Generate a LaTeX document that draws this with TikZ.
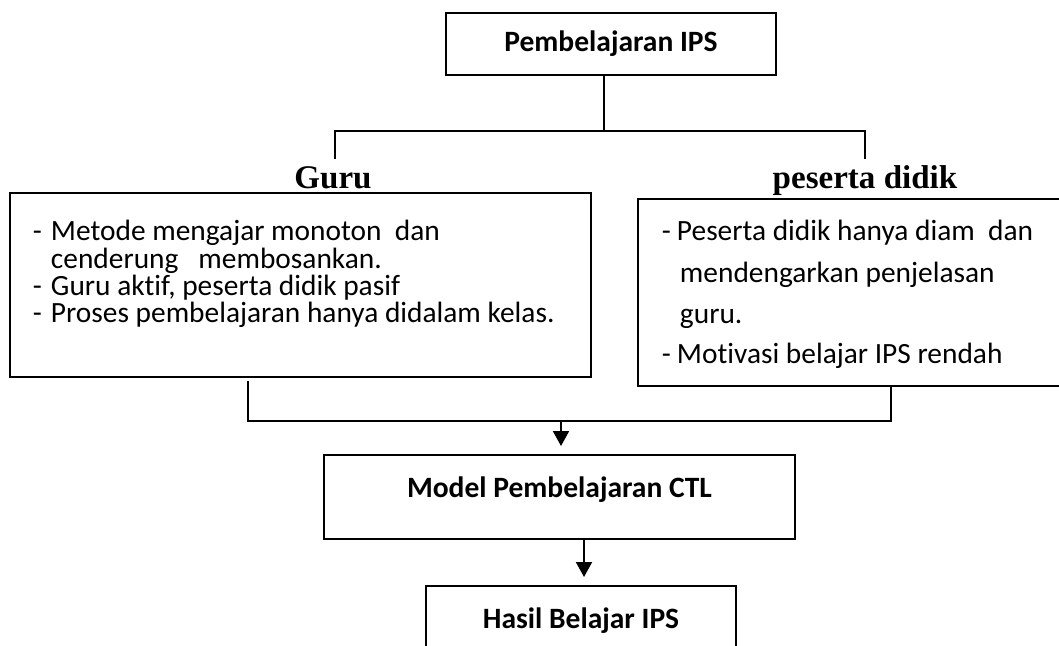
\documentclass[tikz,border=0pt]{standalone}
\usepackage{fontspec}
\setmainfont[Ligatures=NoCommon]{Carlito}
\newfontfamily\headfont{Liberation Serif}
\usetikzlibrary{arrows.meta,positioning,calc}
\newcommand{\butir}[1][0.45cm]{\makebox[#1][l]{-}}

\begin{document}
\begin{tikzpicture}
[x=0.025cm,y=-0.025cm,line width=1.4pt,
titlebox/.style={draw,rectangle,font=\fontsize{21}{25}\selectfont\bfseries},
lowtext/.style={text height=0.55cm,text depth=0.55cm},
listbox/.style={draw,rectangle},
itemtext/.style={anchor=base west,inner sep=0pt,font=\fontsize{20.9}{25}\selectfont},
headtext/.style={font=\headfont\fontsize{23.5}{28}\selectfont\bfseries},
arr/.style={-{Triangle[width=0.4cm,length=0.375cm]},shorten >=0.2cm}]
\useasboundingbox (0,0) rectangle (1059,645);
\clip (0,0) rectangle (1059,645);

\node[titlebox,minimum width=8.25cm,minimum height=1.55cm] (ips) at (611,44) {Pembelajaran IPS};
\node[headtext] (guru) at (333,178) {Guru};
\node[headtext] (siswa) at (865,181) {peserta didik};

\node[listbox,minimum width=14.525cm,minimum height=4.6cm] (guruBox) at (300.5,285) {};
\node[listbox,minimum width=10.8cm,minimum height=4.675cm] (siswaBox) at (854,292.5) {};

\node[itemtext] (g1) at (32,240) {\butir Metode mengajar monoton\ \ dan};
\node[itemtext] (g2) at (50,268) {cenderung\ \ \ membosankan.};
\node[itemtext] (g3) at (32,295) {\butir Guru aktif, peserta didik pasif};
\node[itemtext] (g4) at (32,322) {\butir Proses pembelajaran hanya didalam kelas.};

\node[itemtext] (s1) at (661,240) {\butir[0.375cm]Peserta didik hanya diam\ \ dan};
\node[itemtext] (s2) at (679,282) {mendengarkan penjelasan};
\node[itemtext] (s3) at (679,323) {guru.};
\node[itemtext] (s4) at (661,363) {\butir[0.375cm]Motivasi belajar IPS rendah};

\node[titlebox,lowtext,minimum width=11.775cm,minimum height=2.1cm] (ctl) at (559.5,497) {Model Pembelajaran CTL};
\node[titlebox,lowtext,minimum width=7.75cm,minimum height=2.1cm] (hasil) at (581,628) {Hasil Belajar IPS};

% cabang atas
\coordinate (cabang) at (604,131);
\coordinate (guruUp) at (335,159);
\coordinate (siswaUp) at (865,159);
\draw (ips.south -| cabang) -- (cabang);
\draw (guruUp) |- (cabang) -| (siswaUp);

% gabung bawah
\coordinate (gabung) at (561,421);
\coordinate (guruDown) at (248,381);
\coordinate (siswaDown) at (891,386);
\coordinate (turun) at (584,539);
\draw (guruDown) |- (gabung) -| (siswaDown);
\draw[arr] (gabung) -- (ctl.north -| gabung);
\draw[arr] (turun) -- (hasil.north -| turun);

\end{tikzpicture}
\end{document}
